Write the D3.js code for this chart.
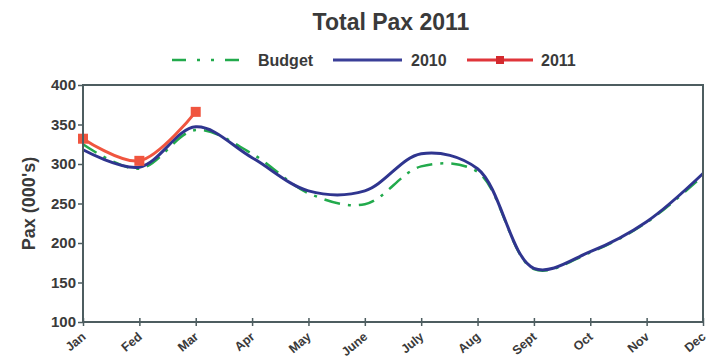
<!DOCTYPE html>
<html>
<head>
<meta charset="utf-8">
<script src="https://cdnjs.cloudflare.com/ajax/libs/d3/7.8.5/d3.min.js"></script>
<style>
  body { margin: 0; background: #fff; }
  text { font-family: "Liberation Sans", Arial, sans-serif; }
</style>
</head>
<body>
<div id="chart"></div>
<script>
// Data
const months = ["Jan", "Fed", "Mar", "Apr", "May", "June", "July", "Aug", "Sept", "Oct", "Nov", "Dec"];
const budget = [325, 294, 343, 313, 263, 249, 297, 290, 167, 188, 226, 285];
const pax2010 = [318, 296, 347, 308, 266, 266, 313, 294, 168, 189, 227, 288];
const pax2011 = [332, 304, 366];
const yTicks = [100, 150, 200, 250, 300, 350, 400];

const margin = { top: 85, right: 13, bottom: 36, left: 83 },
      width = 716 - margin.left - margin.right,
      height = 358 - margin.top - margin.bottom;

const svg = d3.select("#chart")
  .append("svg")
  .attr("width", 716)
  .attr("height", 358);

const g = svg.append("g")
  .attr("transform", `translate(${margin.left},${margin.top})`);

const x = d3.scalePoint()
  .domain(months)
  .range([0, width]);

const y = d3.scaleLinear()
  .domain([100, 400])
  .range([height, 0]);

const frameColor = "#4d5d60";
const textColor = "#3a3a3a";

// Title
svg.append("text")
  .attr("x", 391)
  .attr("y", 30)
  .attr("text-anchor", "middle")
  .style("font-size", "23px")
  .style("font-weight", "bold")
  .attr("fill", textColor)
  .text("Total Pax 2011");

// Legend
const legend = svg.append("g");
legend.append("line")
  .attr("x1", 172).attr("x2", 250).attr("y1", 60).attr("y2", 60)
  .attr("stroke", "#22aa4c").attr("stroke-width", 2.5)
  .attr("stroke-dasharray", "14,11,3,11,3,11");
legend.append("text").attr("x", 258).attr("y", 66).text("Budget");
legend.append("line")
  .attr("x1", 333).attr("x2", 402).attr("y1", 60).attr("y2", 60)
  .attr("stroke", "#3a3f98").attr("stroke-width", 3);
legend.append("text").attr("x", 411).attr("y", 66).text("2010");
legend.append("line")
  .attr("x1", 467).attr("x2", 533).attr("y1", 60).attr("y2", 60)
  .attr("stroke", "#e0353a").attr("stroke-width", 3);
legend.append("rect")
  .attr("x", 496).attr("y", 56).attr("width", 8).attr("height", 8)
  .attr("fill", "#d42a2e");
legend.append("text").attr("x", 541).attr("y", 66).text("2011");
legend.selectAll("text")
  .style("font-size", "16px")
  .style("font-weight", "bold")
  .attr("fill", textColor);

// Y axis
const yAxis = g.append("g")
  .call(d3.axisLeft(y).tickValues(yTicks).tickSize(5).tickPadding(2));
yAxis.select(".domain").remove();
yAxis.selectAll("line").attr("stroke", frameColor).attr("stroke-width", 1.5);
yAxis.selectAll("text")
  .style("font-size", "15px")
  .style("font-weight", "bold")
  .attr("fill", textColor);

// X axis
const xAxis = g.append("g")
  .attr("transform", `translate(0,${height})`)
  .call(d3.axisBottom(x).tickSize(4));
xAxis.select(".domain").remove();
xAxis.selectAll("line")
  .attr("y1", -4).attr("y2", 4)
  .attr("stroke", frameColor).attr("stroke-width", 1.5);
xAxis.selectAll("text")
  .attr("text-anchor", "end")
  .attr("dy", null)
  .attr("x", 0)
  .attr("y", 0)
  .attr("transform", "translate(3,16) rotate(-40)")
  .style("font-size", "12.5px")
  .style("font-weight", "bold")
  .attr("fill", textColor);

// Y axis label
svg.append("text")
  .attr("transform", "rotate(-90)")
  .attr("x", -(margin.top + height / 2))
  .attr("y", 35)
  .attr("text-anchor", "middle")
  .style("font-size", "18px")
  .style("font-weight", "bold")
  .attr("fill", textColor)
  .text("Pax (000's)");

// Lines
const line = d3.line()
  .x((d, i) => x(months[i]))
  .y(d => y(d))
  .curve(d3.curveCatmullRom.alpha(0.5));

g.append("path")
  .datum(budget)
  .attr("fill", "none")
  .attr("stroke", "#22aa4c")
  .attr("stroke-width", 2.5)
  .attr("stroke-dasharray", "16,8,3,8")
  .attr("d", line);

g.append("path")
  .datum(pax2010)
  .attr("fill", "none")
  .attr("stroke", "#2f358f")
  .attr("stroke-width", 3)
  .attr("d", line);

g.append("path")
  .datum(pax2011)
  .attr("fill", "none")
  .attr("stroke", "#f0553f")
  .attr("stroke-width", 3)
  .attr("d", line);

g.selectAll(".m2011")
  .data(pax2011)
  .enter()
  .append("rect")
  .attr("x", (d, i) => x(months[i]) - 5)
  .attr("y", d => y(d) - 5)
  .attr("width", 10)
  .attr("height", 10)
  .attr("fill", "#f0553f");

// Frame
g.append("rect")
  .attr("x", 0).attr("y", 0)
  .attr("width", width).attr("height", height)
  .attr("fill", "none")
  .attr("stroke", frameColor)
  .attr("stroke-width", 2);
</script>
</body>
</html>
